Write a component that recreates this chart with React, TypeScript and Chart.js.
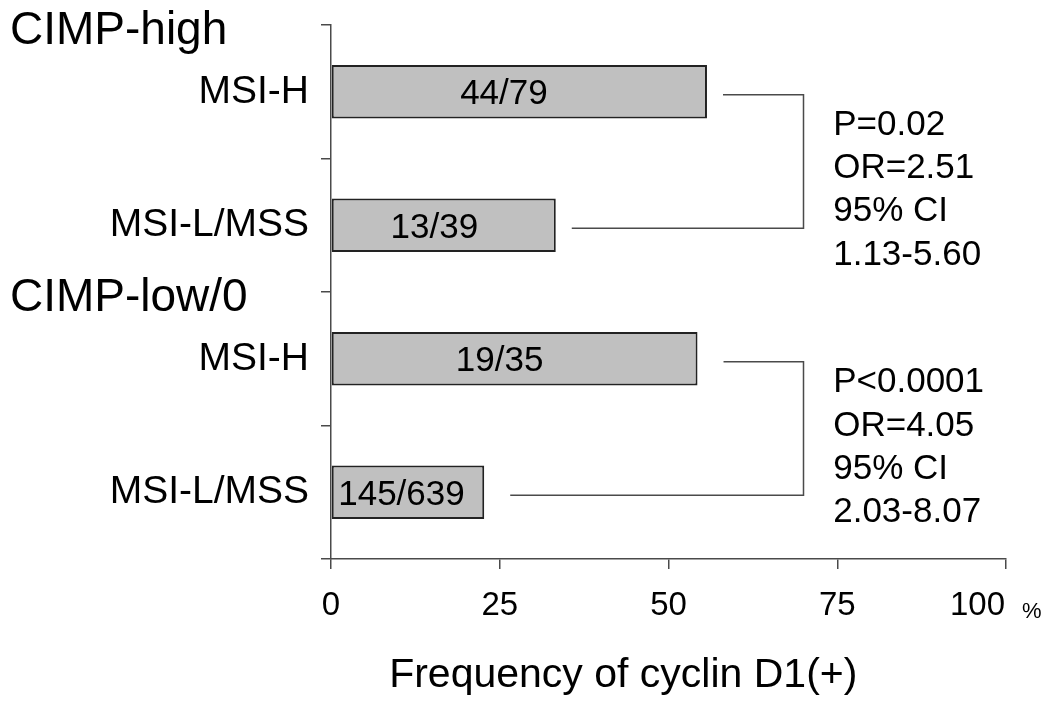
import React, { useEffect, useRef } from "react";
import { Chart, registerables } from "chart.js";

Chart.register(...registerables);

// ---- data ----
const CATEGORIES = ["MSI-H", "MSI-L/MSS", "MSI-H", "MSI-L/MSS"];
const GROUPS = ["CIMP-high", "CIMP-low/0"];
const GROUP_START = [0, 2];
const FREQUENCY = [55.7, 33.3, 54.3, 22.7];
const COUNT_LABELS = ["44/79", "13/39", "19/35", "145/639"];
const X_TICKS = [0, 25, 50, 75, 100];
const PAIRS = [
  [0, 1],
  [2, 3],
];
const STATS_HIGH = ["P=0.02", "OR=2.51", "95% CI", "1.13-5.60"];
const STATS_LOW = ["P<0.0001", "OR=4.05", "95% CI", "2.03-8.07"];
const X_TITLE = "Frequency of cyclin D1(+)";

const FONT = '"Liberation Sans", Arial, Helvetica, sans-serif';
const AXIS_COLOR = "#4a4a4a";

const annotations = {
  id: "annotations",
  afterDraw(chart: any) {
    const ctx = chart.ctx;
    const xs = chart.scales.x;
    const ys = chart.scales.y;
    const meta = chart.getDatasetMeta(0);
    const band = ys.getPixelForValue(1) - ys.getPixelForValue(0);
    ctx.save();

    // counts inside bars
    ctx.fillStyle = "#000";
    ctx.font = `35px ${FONT}`;
    ctx.textAlign = "center";
    ctx.textBaseline = "middle";
    meta.data.forEach((bar: any, i: number) => {
      ctx.fillText(COUNT_LABELS[i], xs.getPixelForValue(FREQUENCY[i] * 0.46), bar.y + 3);
    });

    // group headers
    ctx.font = `46px ${FONT}`;
    ctx.textAlign = "left";
    GROUPS.forEach((g, gi) => {
      const yy = ys.getPixelForValue(GROUP_START[gi]) - band / 2;
      ctx.fillText(g, 10, yy + 6);
    });

    // brackets
    ctx.strokeStyle = AXIS_COLOR;
    ctx.lineWidth = 1.5;
    const gaps = [16, 26];
    const xb = xs.getPixelForValue(70);
    PAIRS.forEach(([a, b], k) => {
      const ba = meta.data[a];
      const bb = meta.data[b];
      ctx.beginPath();
      ctx.moveTo(ba.x + gaps[k], ba.y + 3);
      ctx.lineTo(xb, ba.y + 3);
      ctx.lineTo(xb, bb.y + 3);
      ctx.lineTo(bb.x + gaps[k], bb.y + 3);
      ctx.stroke();
    });

    // statistics
    ctx.font = `35px ${FONT}`;
    ctx.textAlign = "left";
    ctx.textBaseline = "middle";
    const statAnchors = [0.25, 2.18];
    [STATS_HIGH, STATS_LOW].forEach((lines, k) => {
      const y0 = ys.getPixelForValue(statAnchors[k]);
      const x0 = xs.getPixelForValue(74.4);
      lines.forEach((t, i) => ctx.fillText(t, x0, y0 + i * 43.3));
    });

    // last tick label "100 %"
    const tickY = xs.top + 10 + 17 + (33 * 1.2) / 2;
    const x100 = xs.getPixelForValue(X_TICKS[X_TICKS.length - 1]);
    ctx.font = `33px ${FONT}`;
    ctx.textAlign = "right";
    ctx.textBaseline = "middle";
    ctx.fillText(String(X_TICKS[X_TICKS.length - 1]), x100 - 1, tickY);
    ctx.font = `22px ${FONT}`;
    ctx.textAlign = "left";
    ctx.textBaseline = "alphabetic";
    ctx.fillText("%", x100 + 16, tickY + 12);

    // axis title
    ctx.font = `41px ${FONT}`;
    ctx.textAlign = "center";
    ctx.textBaseline = "middle";
    ctx.fillText(X_TITLE, xs.getPixelForValue(43.3), xs.bottom - 38);

    ctx.restore();
  },
};

export default function App() {
  const ref = useRef<HTMLCanvasElement | null>(null);

  useEffect(() => {
    if (!ref.current) return;
    const chart = new Chart(ref.current, {
      type: "bar",
      data: {
        labels: CATEGORIES,
        datasets: [
          {
            data: FREQUENCY,
            backgroundColor: "#c0c0c0",
            borderColor: "#222",
            borderWidth: 2,
            borderSkipped: false,
            barPercentage: 0.4,
            categoryPercentage: 1,
          },
        ],
      },
      plugins: [annotations],
      options: {
        indexAxis: "y",
        responsive: false,
        animation: false,
        events: [],
        layout: { padding: { left: 0, right: 44, top: 25, bottom: 0 } },
        plugins: {
          legend: { display: false },
          tooltip: { enabled: false },
          title: { display: false },
        },
        scales: {
          y: {
            type: "category",
            offset: true,
            grid: {
              offset: true,
              drawOnChartArea: false,
              tickLength: 10,
              color: AXIS_COLOR,
              lineWidth: 1.5,
            },
            border: { color: AXIS_COLOR, width: 1.5 },
            ticks: { color: "#000", font: { family: FONT, size: 39 }, padding: 12 },
            afterFit: (s: any) => {
              s.width = 331;
              s.paddingTop = 0;
              s.paddingBottom = 0;
            },
          },
          x: {
            type: "linear",
            min: X_TICKS[0],
            max: X_TICKS[X_TICKS.length - 1],
            afterBuildTicks: (s: any) => {
              s.ticks = X_TICKS.map((v) => ({ value: v }));
            },
            grid: {
              drawOnChartArea: false,
              tickLength: 10,
              color: AXIS_COLOR,
              lineWidth: 1.5,
            },
            border: { color: AXIS_COLOR, width: 1.5 },
            ticks: {
              color: "#000",
              font: { family: FONT, size: 33 },
              padding: 17,
              callback: (v: any) => (v === X_TICKS[X_TICKS.length - 1] ? "" : String(v)),
            },
            afterFit: (s: any) => {
              s.height = 155;
              s.paddingLeft = 0;
              s.paddingRight = 0;
            },
          },
        },
      },
    });
    return () => chart.destroy();
  }, []);

  return (
    <div style={{ position: "absolute", left: 0, top: 0, width: 1050, height: 714, background: "#fff" }}>
      <canvas ref={ref} width={1050} height={714} style={{ display: "block" }} />
    </div>
  );
}
